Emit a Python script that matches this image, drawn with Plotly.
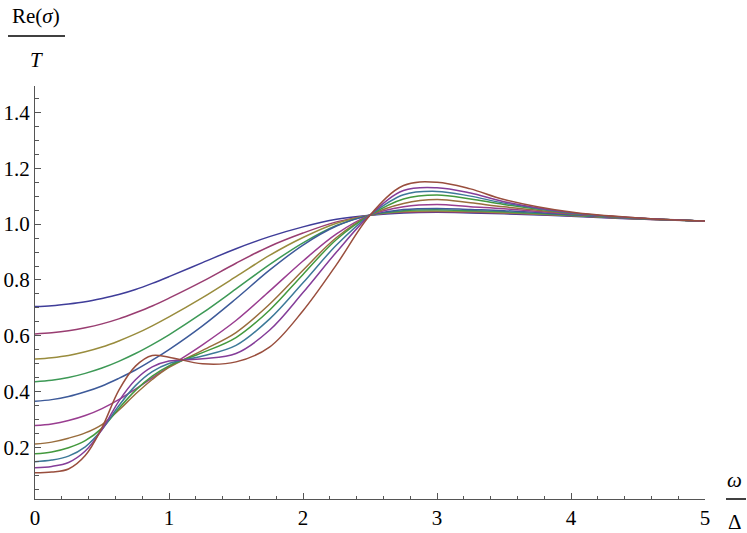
import plotly.graph_objects as go

# omega / Delta sample points
omega = [0, 0.125, 0.25, 0.375, 0.5, 0.625, 0.75, 0.875, 1.0, 1.25, 1.5, 1.75, 2.0, 2.25, 2.5, 2.75, 3.0, 3.25, 3.5, 4.0, 4.5, 5.0]

# Re(sigma)/T for each curve (top starting value to bottom starting value)
curve_01 = [0.705, 0.708, 0.714, 0.722, 0.734, 0.748, 0.766, 0.788, 0.812, 0.862, 0.912, 0.955, 0.990, 1.017, 1.032, 1.040, 1.042, 1.040, 1.037, 1.028, 1.018, 1.011]
curve_02 = [0.607, 0.611, 0.618, 0.629, 0.643, 0.661, 0.683, 0.707, 0.735, 0.795, 0.860, 0.920, 0.968, 1.008, 1.032, 1.042, 1.044, 1.042, 1.039, 1.030, 1.018, 1.011]
curve_03 = [0.517, 0.522, 0.530, 0.543, 0.560, 0.582, 0.607, 0.636, 0.668, 0.737, 0.812, 0.888, 0.952, 1.003, 1.032, 1.045, 1.047, 1.045, 1.041, 1.031, 1.019, 1.011]
curve_04 = [0.436, 0.441, 0.451, 0.466, 0.485, 0.509, 0.537, 0.569, 0.604, 0.682, 0.768, 0.855, 0.933, 0.995, 1.032, 1.048, 1.051, 1.048, 1.044, 1.032, 1.019, 1.011]
curve_05 = [0.366, 0.372, 0.383, 0.400, 0.421, 0.448, 0.478, 0.513, 0.551, 0.636, 0.733, 0.835, 0.925, 0.993, 1.032, 1.052, 1.056, 1.052, 1.048, 1.034, 1.020, 1.011]
curve_06 = [0.279, 0.285, 0.297, 0.315, 0.340, 0.372, 0.410, 0.450, 0.490, 0.568, 0.655, 0.760, 0.868, 0.965, 1.032, 1.062, 1.070, 1.062, 1.055, 1.036, 1.020, 1.011]
curve_07 = [0.213, 0.220, 0.234, 0.253, 0.283, 0.334, 0.392, 0.444, 0.487, 0.548, 0.612, 0.713, 0.835, 0.952, 1.032, 1.074, 1.088, 1.076, 1.062, 1.038, 1.021, 1.011]
curve_08 = [0.178, 0.185, 0.200, 0.225, 0.270, 0.340, 0.405, 0.456, 0.493, 0.540, 0.594, 0.692, 0.820, 0.945, 1.032, 1.090, 1.104, 1.090, 1.070, 1.039, 1.021, 1.011]
curve_09 = [0.150, 0.156, 0.170, 0.203, 0.265, 0.350, 0.422, 0.472, 0.501, 0.528, 0.566, 0.660, 0.790, 0.925, 1.032, 1.105, 1.117, 1.100, 1.075, 1.040, 1.021, 1.011]
curve_10 = [0.128, 0.133, 0.147, 0.188, 0.265, 0.366, 0.443, 0.489, 0.510, 0.518, 0.537, 0.620, 0.755, 0.900, 1.032, 1.120, 1.130, 1.111, 1.080, 1.041, 1.022, 1.011]
curve_11 = [0.110, 0.113, 0.124, 0.172, 0.272, 0.405, 0.492, 0.530, 0.524, 0.500, 0.507, 0.560, 0.690, 0.855, 1.032, 1.138, 1.150, 1.126, 1.088, 1.043, 1.022, 1.011]

curves = [curve_01, curve_02, curve_03, curve_04, curve_05, curve_06,
          curve_07, curve_08, curve_09, curve_10, curve_11]

colors = ["rgb(63,61,153)", "rgb(153,61,113)", "rgb(153,140,61)", "rgb(61,153,86)",
          "rgb(61,90,153)", "rgb(153,61,144)", "rgb(153,109,61)", "rgb(67,153,61)",
          "rgb(61,121,153)", "rgb(132,61,153)", "rgb(153,78,61)"]

x_ticks = [0, 1, 2, 3, 4, 5]
y_ticks = [0.2, 0.4, 0.6, 0.8, 1.0, 1.2, 1.4]

fig = go.Figure()
for ys, c in zip(curves, colors):
    fig.add_trace(go.Scatter(x=omega, y=ys, mode="lines",
                             line=dict(color=c, width=1.5, shape="spline", smoothing=1.0),
                             showlegend=False, hoverinfo="skip"))

serif = "Liberation Serif"
axis_col = "#555555"

fig.update_layout(
    width=747, height=533,
    margin=dict(l=35, r=42, t=86, b=34, autoexpand=False),
    plot_bgcolor="white", paper_bgcolor="white",
    font=dict(family=serif, size=21, color="black"),
    xaxis=dict(range=[0, 5], showgrid=False, zeroline=False, automargin=False,
               showline=True, linecolor=axis_col, linewidth=1,
               tickvals=x_ticks, ticktext=[str(v) for v in x_ticks],
               ticks="inside", ticklen=6, tickcolor=axis_col, tickwidth=1,
               minor=dict(dtick=0.2, ticks="inside", ticklen=3.5, tickcolor=axis_col, tickwidth=1),
               tickfont=dict(family=serif, size=21, color="black")),
    yaxis=dict(range=[0.0165, 1.494], showgrid=False, zeroline=False, automargin=False,
               showline=True, linecolor=axis_col, linewidth=1,
               tickvals=y_ticks, ticktext=["%.1f" % v for v in y_ticks],
               ticks="inside", ticklen=6, tickcolor=axis_col, tickwidth=1,
               minor=dict(dtick=0.05, ticks="inside", ticklen=3.5, tickcolor=axis_col, tickwidth=1),
               tickfont=dict(family=serif, size=21, color="black")),
)

# axis labels as fractions
fig.add_annotation(xref="paper", yref="paper", x=(36 - 35) / 670, y=(499 - 16) / 413,
                   text="Re(<i>σ</i>)", showarrow=False, xanchor="center", yanchor="middle",
                   font=dict(family=serif, size=21, color="black"))
fig.add_annotation(xref="paper", yref="paper", x=(36 - 35) / 670, y=(499 - 60) / 413,
                   text="<i>T</i>", showarrow=False, xanchor="center", yanchor="middle",
                   font=dict(family=serif, size=21, color="black"))
fig.add_shape(type="line", xref="paper", yref="paper",
              x0=(8 - 35) / 670, x1=(65 - 35) / 670, y0=(499 - 36) / 413, y1=(499 - 36) / 413,
              line=dict(color="black", width=1.5))

fig.add_annotation(xref="paper", yref="paper", x=(735 - 35) / 670, y=(499 - 480) / 413,
                   text="<i>ω</i>", showarrow=False, xanchor="center", yanchor="middle",
                   font=dict(family=serif, size=21, color="black"))
fig.add_annotation(xref="paper", yref="paper", x=(735 - 35) / 670, y=(499 - 522) / 413,
                   text="Δ", showarrow=False, xanchor="center", yanchor="middle",
                   font=dict(family=serif, size=21, color="black"))
fig.add_shape(type="line", xref="paper", yref="paper",
              x0=(726 - 35) / 670, x1=(746 - 35) / 670, y0=0, y1=0,
              line=dict(color="black", width=1.5))

fig.write_html("out.html", config={"displayModeBar": False},
               post_script="document.body.style.margin='0px';document.body.style.overflow='hidden';")
